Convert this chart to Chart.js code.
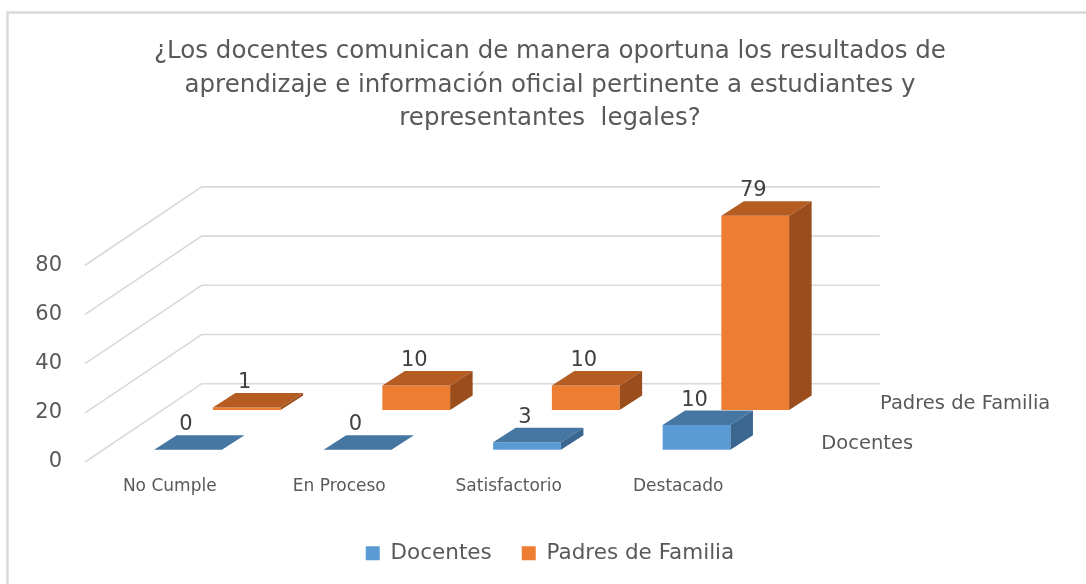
<!DOCTYPE html>
<html>
<head>
<meta charset="utf-8">
<script src="https://cdn.jsdelivr.net/npm/chart.js@4.4.0/dist/chart.umd.min.js"></script>
<style>
html,body{margin:0;padding:0;background:#ffffff;}
#wrap{width:1086px;height:584px;position:relative;}
</style>
</head>
<body>
<div id="wrap"><canvas id="c" width="1086" height="584"></canvas></div>
<script>
// ---- data ----
const categories = ['No Cumple', 'En Proceso', 'Satisfactorio', 'Destacado'];
const seriesNames = ['Docentes', 'Padres de Familia'];
const docentes = [0, 0, 3, 10];
const padres = [1, 10, 10, 79];
const yTickValues = [0, 20, 40, 60, 80];
const titleLines = [
  '¿Los docentes comunican de manera oportuna los resultados de',
  'aprendizaje e información oficial pertinente a estudiantes y',
  'representantes  legales?'
];

// ---- styles ----
const FONT = 'DejaVu Sans, Verdana, sans-serif';
const TEXT = '#595959';
const FRONT = ['#5B9BD5', '#ED7D31'];
const FACE = [{top: '#4676A2', side: '#3B6690'}, {top: '#B45C22', side: '#9B4E1C'}];
const ROW = [{dx: 18.3, dy: -12.3}, {dx: 77, dy: -52}];   // depth position of each series row
const DEPTH = {dx: 22.5, dy: -14.5};                      // depth of each bar
const WALL = {dx: 116.7, dy: -78.3};                      // back wall offset

const plugin3d = {
  id: 'bars3d',
  beforeDraw(chart) {
    const ctx = chart.ctx;
    ctx.save();
    ctx.strokeStyle = '#d9d9d9';
    ctx.lineWidth = 2.5;
    ctx.strokeRect(7.5, 12.5, 3000, 3000);
    ctx.restore();
  },
  beforeDatasetsDraw(chart) {
    const ctx = chart.ctx;
    const ys = chart.scales.y;
    const a = chart.chartArea;
    ctx.save();
    ctx.strokeStyle = '#d9d9d9';
    ctx.lineWidth = 1.6;
    yTickValues.forEach(v => {
      const py = ys.getPixelForValue(v);
      ctx.beginPath();
      ctx.moveTo(a.left, py);
      ctx.lineTo(a.left + WALL.dx, py + WALL.dy);
      ctx.lineTo(a.right + WALL.dx, py + WALL.dy);
      ctx.stroke();
    });
    ctx.restore();
  },
  beforeDatasetDraw(chart, args) {
    const ctx = chart.ctx;
    const off = ROW[args.index];
    ctx.save();
    ctx.translate(off.dx, off.dy);
  },
  afterDatasetDraw(chart, args) {
    const ctx = chart.ctx;
    const ds = chart.data.datasets[args.index];
    const face = FACE[args.index];
    args.meta.data.forEach((bar, i) => {
      const p = bar.getProps(['x', 'y', 'base', 'width'], true);
      const l = p.x - p.width / 2, r = p.x + p.width / 2;
      const top = Math.min(p.y, p.base), bot = Math.max(p.y, p.base);
      // top face
      ctx.fillStyle = face.top;
      ctx.beginPath();
      ctx.moveTo(l, top);
      ctx.lineTo(l + DEPTH.dx, top + DEPTH.dy);
      ctx.lineTo(r + DEPTH.dx, top + DEPTH.dy);
      ctx.lineTo(r, top);
      ctx.closePath();
      ctx.fill();
      // side face
      if (bot - top > 0.1) {
        ctx.fillStyle = face.side;
        ctx.beginPath();
        ctx.moveTo(r, top);
        ctx.lineTo(r + DEPTH.dx, top + DEPTH.dy);
        ctx.lineTo(r + DEPTH.dx, bot + DEPTH.dy);
        ctx.lineTo(r, bot);
        ctx.closePath();
        ctx.fill();
      }
      // value label
      ctx.fillStyle = '#404040';
      ctx.font = '21px ' + FONT;
      ctx.textAlign = 'center';
      ctx.textBaseline = 'middle';
      ctx.fillText(String(ds.data[i]), p.x - 2, top - 25);
    });
    ctx.restore();
  },
  afterDraw(chart) {
    const ctx = chart.ctx;
    const a = chart.chartArea;
    ctx.save();
    ctx.fillStyle = TEXT;
    ctx.font = '19.5px ' + FONT;
    ctx.textAlign = 'left';
    ctx.textBaseline = 'middle';
    seriesNames.forEach((name, k) => {
      ctx.fillText(name, a.right + ROW[k].dx + 40, a.bottom + ROW[k].dy - 6);
    });
    ctx.restore();
  }
};

new Chart(document.getElementById('c'), {
  type: 'bar',
  data: {
    labels: categories,
    datasets: [
      {label: seriesNames[0], data: docentes, backgroundColor: FRONT[0], grouped: false, clip: false},
      {label: seriesNames[1], data: padres, backgroundColor: FRONT[1], grouped: false, clip: false}
    ]
  },
  options: {
    responsive: false,
    animation: false,
    devicePixelRatio: 1,
    barPercentage: 0.4,
    categoryPercentage: 1,
    layout: {padding: {left: 14, right: 0, top: 0, bottom: 10}},
    plugins: {
      tooltip: {enabled: false},
      title: {
        display: true,
        text: titleLines,
        color: TEXT,
        font: {family: FONT, size: 24.5, weight: 'normal', lineHeight: 1.367},
        padding: {top: 35.25, bottom: 129.5}
      },
      legend: {
        position: 'bottom',
        labels: {
          color: TEXT,
          font: {family: FONT, size: 21.5},
          boxWidth: 14,
          boxHeight: 14,
          padding: 30
        }
      }
    },
    scales: {
      x: {
        grid: {display: false, drawTicks: false},
        border: {display: false},
        ticks: {color: TEXT, font: {family: FONT, size: 17}, padding: 14.5, maxRotation: 0, autoSkip: false},
        afterFit(s) { s.height = 50.5; }
      },
      y: {
        min: 0, max: 80,
        afterBuildTicks(s) { s.ticks = yTickValues.map(v => ({value: v})); },
        grid: {display: false, drawTicks: false},
        border: {display: false},
        ticks: {color: TEXT, font: {family: FONT, size: 21}, padding: 23},
        afterFit(s) { s.width = 71; }
      },
      y2: {
        position: 'right',
        grid: {display: false, drawTicks: false},
        border: {display: false},
        ticks: {display: false},
        afterFit(s) { s.width = 323; }
      }
    }
  },
  plugins: [plugin3d]
});
</script>
</body>
</html>
